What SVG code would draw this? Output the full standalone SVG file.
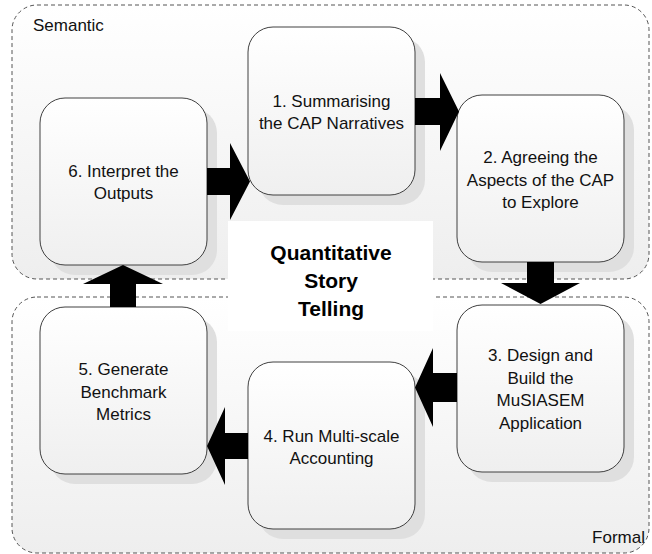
<svg xmlns="http://www.w3.org/2000/svg" width="652" height="554" viewBox="0 0 652 554">
  <defs>
    <linearGradient id="gCont" x1="0" y1="0" x2="0" y2="1">
      <stop offset="0" stop-color="#ffffff"/>
      <stop offset="1" stop-color="#eeeeee"/>
    </linearGradient>
    <linearGradient id="gNode" x1="0" y1="0" x2="0" y2="1">
      <stop offset="0" stop-color="#ffffff"/>
      <stop offset="1" stop-color="#efefef"/>
    </linearGradient>
    <style>
      .cont { fill: url(#gCont); stroke: #555555; stroke-width: 1; stroke-dasharray: 4 3; }
      .shadow { fill: #dfdfdf; }
      .node { fill: url(#gNode); stroke: #404040; stroke-width: 1; }
      .arrow { fill: #000000; stroke: none; }
      .lbl { font-family: "Liberation Sans", Arial, sans-serif; font-size: 17px; fill: #111111; }
      .ntext { font-family: "Liberation Sans", Arial, sans-serif; font-size: 17px; fill: #111111; text-anchor: middle; }
      .title { font-family: "Liberation Sans", Arial, sans-serif; font-size: 21px; font-weight: bold; fill: #000000; text-anchor: middle; }
    </style>
  </defs>

  <g id="container-semantic">
    <rect class="cont" x="12" y="5" width="637" height="274" rx="25" ry="25"/>
    <text class="lbl" x="33" y="31">Semantic</text>
  </g>
  <g id="container-formal">
    <rect class="cont" x="12" y="297" width="637" height="256" rx="25" ry="25"/>
    <text class="lbl" x="645" y="543" text-anchor="end">Formal</text>
  </g>

  <g id="center-title">
    <rect x="228" y="221" width="205" height="110" fill="#ffffff"/>
    <text class="title" x="331" y="260">Quantitative</text>
    <text class="title" x="331" y="288">Story</text>
    <text class="title" x="331" y="316">Telling</text>
  </g>

  <g id="node1">
    <rect class="shadow" x="258" y="37" width="167" height="168" rx="25" ry="25"/>
    <rect class="node" x="248" y="27" width="167" height="168" rx="25" ry="25"/>
    <text class="ntext" x="331.5" y="107">1. Summarising</text>
    <text class="ntext" x="331.5" y="129">the CAP Narratives</text>
  </g>
  <g id="node2">
    <rect class="shadow" x="467" y="105" width="167" height="167" rx="25" ry="25"/>
    <rect class="node" x="457" y="95" width="167" height="167" rx="25" ry="25"/>
    <text class="ntext" x="540.5" y="163">2. Agreeing the</text>
    <text class="ntext" x="540.5" y="185.5">Aspects of the CAP</text>
    <text class="ntext" x="540.5" y="208">to Explore</text>
  </g>
  <g id="node3">
    <rect class="shadow" x="467" y="315" width="167" height="167" rx="25" ry="25"/>
    <rect class="node" x="457" y="305" width="167" height="167" rx="25" ry="25"/>
    <text class="ntext" x="540.5" y="361">3. Design and</text>
    <text class="ntext" x="540.5" y="383.5">Build the</text>
    <text class="ntext" x="540.5" y="406">MuSIASEM</text>
    <text class="ntext" x="540.5" y="428.5">Application</text>
  </g>
  <g id="node4">
    <rect class="shadow" x="258" y="372" width="167" height="167" rx="25" ry="25"/>
    <rect class="node" x="248" y="362" width="167" height="167" rx="25" ry="25"/>
    <text class="ntext" x="331.5" y="442">4. Run Multi-scale</text>
    <text class="ntext" x="331.5" y="464">Accounting</text>
  </g>
  <g id="node5">
    <rect class="shadow" x="50" y="317" width="167" height="167" rx="25" ry="25"/>
    <rect class="node" x="40" y="307" width="167" height="167" rx="25" ry="25"/>
    <text class="ntext" x="123.5" y="375">5. Generate</text>
    <text class="ntext" x="123.5" y="397.5">Benchmark</text>
    <text class="ntext" x="123.5" y="420">Metrics</text>
  </g>
  <g id="node6">
    <rect class="shadow" x="50" y="108" width="167" height="167" rx="25" ry="25"/>
    <rect class="node" x="40" y="98" width="167" height="167" rx="25" ry="25"/>
    <text class="ntext" x="123.5" y="177">6. Interpret the</text>
    <text class="ntext" x="123.5" y="199">Outputs</text>
  </g>

  <g id="connectors">
    <polygon class="arrow" points="207,168 230,168 230,143 250,181.5 230,220 230,195 207,195"/>
    <polygon class="arrow" points="415,98 440,98 440,73 459,111.5 440,151 440,125 415,125"/>
    <polygon class="arrow" points="527,262 554,262 554,283 580,283 540.5,304 501,283 527,283"/>
    <polygon class="arrow" points="457,373 433,373 433,348 415,387.5 433,427 433,402 457,402"/>
    <polygon class="arrow" points="248,433 225,433 225,407 207,446 225,485 225,459 248,459"/>
    <polygon class="arrow" points="110,307 110,284 83,284 123,265 163,284 136,284 136,307"/>
  </g>
</svg>
